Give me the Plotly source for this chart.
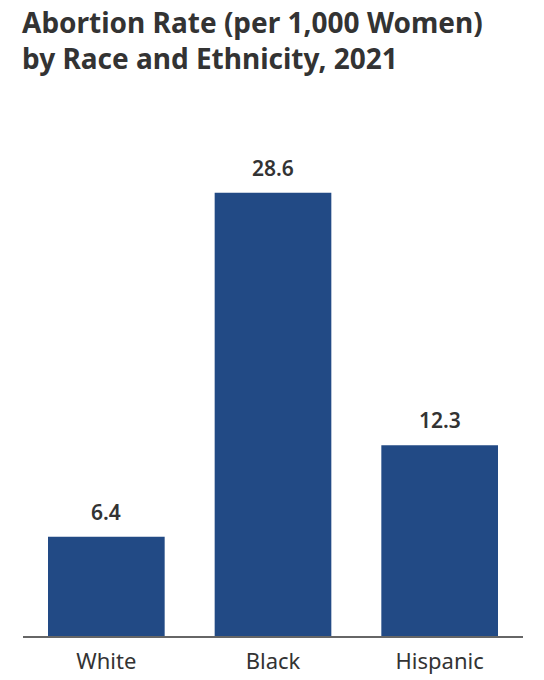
import plotly.graph_objects as go

categories = ["White", "Black", "Hispanic"]
rates = [6.4, 28.6, 12.3]
labels = ["6.4", "28.6", "12.3"]

FONT = "Noto Sans"
TITLE = "Abortion Rate (per 1,000 Women)<br>by Race and Ethnicity, 2021"

fig = go.Figure(
    go.Bar(
        x=categories,
        y=rates,
        marker=dict(color="#224a85", line=dict(width=0)),
        hoverinfo="skip",
    )
)

annotations = [
    dict(
        x=c, y=v, xref="x", yref="y", text=t, showarrow=False,
        yanchor="bottom", yshift=9,
        font=dict(family=FONT, size=21, color="#333333", weight=600),
    )
    for c, v, t in zip(categories, rates, labels)
]
annotations.append(
    dict(
        x=0, y=1, xref="paper", yref="paper", text=TITLE, showarrow=False,
        xanchor="left", yanchor="top", align="left", xshift=-3, yshift=99,
        font=dict(family=FONT, size=28, color="#333333", weight=700),
    )
)

fig.update_layout(
    width=544,
    height=680,
    margin=dict(l=23, r=21, t=100, b=44, autoexpand=False),
    paper_bgcolor="white",
    plot_bgcolor="white",
    bargap=0.30,
    showlegend=False,
    annotations=annotations,
    xaxis=dict(
        showgrid=False,
        showline=True,
        linecolor="#666666",
        linewidth=1.5,
        ticks="",
        automargin=False,
        ticklabelstandoff=5,
        tickfont=dict(family=FONT, size=22, color="#333333"),
    ),
    yaxis=dict(
        range=[0, 34.58],
        showgrid=False,
        showline=False,
        showticklabels=False,
        zeroline=False,
        automargin=False,
        ticks="",
    ),
)

fig.write_html(
    "out.html",
    config={"displayModeBar": False},
    post_script="document.body.style.margin='0';",
)
